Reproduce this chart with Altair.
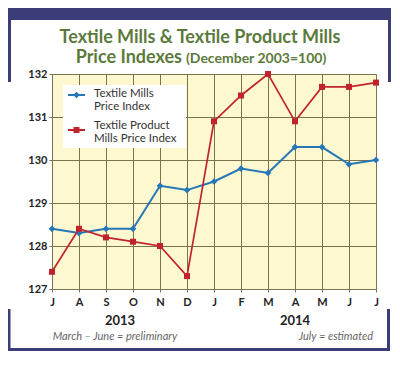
import altair as alt
import pandas as pd

# ---- data ----
month_keys = ["Jul 2013", "Aug 2013", "Sep 2013", "Oct 2013", "Nov 2013", "Dec 2013",
              "Jan 2014", "Feb 2014", "Mar 2014", "Apr 2014", "May 2014", "Jun 2014", "Jul 2014"]
textile_mills = [128.4, 128.3, 128.4, 128.4, 129.4, 129.3, 129.5, 129.8, 129.7, 130.3, 130.3, 129.9, 130.0]
textile_product_mills = [127.4, 128.4, 128.2, 128.1, 128.0, 127.3, 130.9, 131.5, 132.0, 130.9, 131.7, 131.7, 131.8]
y_ticks = [127, 128, 129, 130, 131, 132]

BLUE = "#2677b6"
RED = "#c1232c"
NAVY = "#3b3d78"
GREEN = "#5b7a3b"
GRID = "#77744f"
FONT = "Lato"

df_blue = pd.DataFrame({"month": month_keys, "value": textile_mills})
df_red = pd.DataFrame({"month": month_keys, "value": textile_product_mills})
one = pd.DataFrame({"k": [0]})

x_enc = alt.X("month:O", sort=month_keys,
              scale=alt.Scale(type="point", padding=0),
              axis=alt.Axis(title=None, labelAngle=0, labelExpr="substring(datum.label, 0, 1)",
                            grid=True, gridColor=GRID, gridWidth=1, tickColor=GRID, tickSize=3,
                            domain=False, labelFont=FONT, labelFontWeight="bold", labelFontSize=11,
                            labelColor="#222222", labelPadding=4))
y_enc = alt.Y("value:Q", scale=alt.Scale(domain=[127, 132], nice=False, zero=False),
              axis=alt.Axis(title=None, values=y_ticks, grid=True, gridColor=GRID, gridWidth=1,
                            tickColor=GRID, tickSize=3, domain=False, labelFont=FONT,
                            labelFontWeight="bold", labelFontSize=11, labelColor="#222222",
                            labelPadding=2))

blue_line = alt.Chart(df_blue).mark_line(color=BLUE, strokeWidth=2).encode(x=x_enc, y=y_enc)
blue_pts = alt.Chart(df_blue).mark_point(shape="diamond", filled=True, color=BLUE, size=45, opacity=1).encode(x=x_enc, y=y_enc)
red_line = alt.Chart(df_red).mark_line(color=RED, strokeWidth=1.7).encode(x=x_enc, y=y_enc)
red_pts = alt.Chart(df_red).mark_point(shape="square", filled=True, color=RED, size=36, opacity=1).encode(x=x_enc, y=y_enc)


def rect(x, x2, y, y2, color):
    return alt.Chart(one).mark_rect(color=color).encode(
        x=alt.value(x), x2=alt.value(x2), y=alt.value(y), y2=alt.value(y2))


def txt(s, x, y, size=12, weight="normal", style="normal", color="#222222", align="center",
        baseline="alphabetic", line_height=12):
    return alt.Chart(one).mark_text(text=s, font=FONT, fontSize=size, fontWeight=weight,
                                    fontStyle=style, color=color, align=align,
                                    baseline=baseline, lineHeight=line_height).encode(
        x=alt.value(x), y=alt.value(y))


# frame
frame = [
    rect(-44, 339, -66, -54, NAVY),
    rect(-44, -41, -66, 8, NAVY),
    rect(336, 339, -66, 8, NAVY),
    rect(-44.5, -41.5, 235, 277, NAVY),
    rect(-44.5, 338, 274, 277, NAVY),
    rect(335, 338, 235, 277, NAVY),
]

# titles
titles = [
    txt("Textile Mills & Textile Product Mills", 148, -31, size=18, weight="bold", color=GREEN),
    txt("Price Indexes", 130, -11, size=18, weight="bold", color=GREEN, align="right"),
    txt("(December 2003=100)", 134, -11, size=14, weight="bold", color=GREEN, align="left"),
    txt("2013", 68, 247, size=13, weight="bold", baseline="middle"),
    txt("2014", 243, 247, size=13, weight="bold", baseline="middle"),
    txt("March \u2013 June = preliminary", 63, 263, size=11, style="italic", color="#666666", baseline="middle"),
    txt("July = estimated", 321, 263, size=11, style="italic", color="#666666", align="right", baseline="middle"),
]

# legend (decoration)
legend = [
    rect(11, 134, 11, 74, "#ffffff"),
    alt.Chart(one).mark_rule(color=BLUE, strokeWidth=2).encode(x=alt.value(16), x2=alt.value(33), y=alt.value(21)),
    alt.Chart(one).mark_point(shape="diamond", filled=True, color=BLUE, size=45, opacity=1).encode(x=alt.value(24.5), y=alt.value(21)),
    alt.Chart(one).mark_rule(color=RED, strokeWidth=2).encode(x=alt.value(16), x2=alt.value(33), y=alt.value(56)),
    alt.Chart(one).mark_point(shape="square", filled=True, color=RED, size=36, opacity=1).encode(x=alt.value(24.5), y=alt.value(56)),
    txt(["Textile Mills", "Price Index"], 42, 14, size=11.5, color="#333333", align="left", baseline="top", line_height=13),
    txt(["Textile Product", "Mills Price Index"], 42, 46, size=11.5, color="#333333", align="left", baseline="top", line_height=13),
]

chart = alt.layer(
    blue_line, *legend, blue_pts, red_line, red_pts, *frame, *titles
).properties(
    width=324, height=215,
    autosize=alt.AutoSizeParams(type="none"),
    padding={"left": 44, "top": 66, "right": 16, "bottom": 69},
    background="#ffffff",
).configure_view(fill="#fdf8d0", stroke=None)

chart.save("out.html", embed_options={"renderer": "svg", "actions": False})
